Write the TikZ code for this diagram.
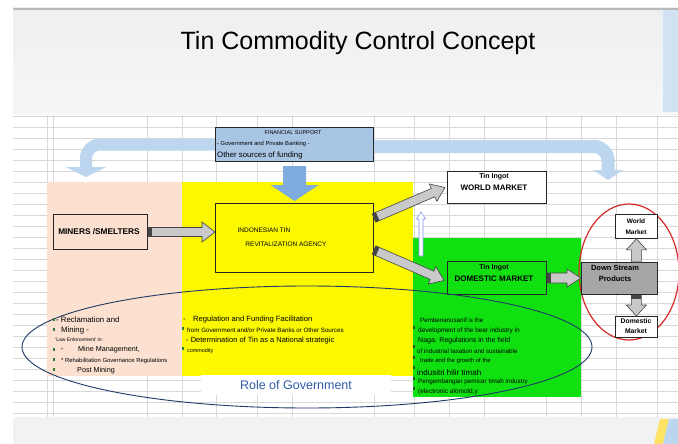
\documentclass[tikz,border=0pt]{standalone}
\usepackage{fontspec}
\setmainfont{Liberation Sans}
\usetikzlibrary{calc,arrows.meta}
\definecolor{peach}{HTML}{FCE1D0}
\definecolor{yel}{HTML}{FBF800}
\definecolor{grn}{HTML}{10E010}
\definecolor{finbl}{HTML}{A9C5E4}
\definecolor{arbl}{HTML}{80ABDE}
\definecolor{lband}{HTML}{BDD6EF}
\definecolor{gridc}{HTML}{D9D9D9}
\definecolor{navy}{HTML}{1F3A66}
\definecolor{redc}{HTML}{D42A2A}
\definecolor{rolebl}{HTML}{2F5BAA}
\definecolor{arrgr}{HTML}{C9C9C9}
\definecolor{arrdk}{HTML}{454545}
\definecolor{dsgr}{HTML}{A6A6A6}
\definecolor{markc}{HTML}{2E7D32}
\definecolor{slidetop}{HTML}{EEEFF0}
\definecolor{slidebg}{HTML}{F6F6F7}
\definecolor{botbg}{HTML}{F1F2F4}
\newcommand{\myfs}[1]{\fontsize{#1}{#1}\selectfont}
\tikzset{
  fatarrow/.style n args={3}{to path={
    let \p1=(\tikztostart), \p2=(\tikztotarget),
        \n1={atan2(\y2-\y1,\x2-\x1)}, \n2={veclen(\x2-\x1,\y2-\y1)} in
    ([shift={(\p1)},rotate=\n1]0pt,#1pt)
    -- ([shift={(\p1)},rotate=\n1]{\n2-#3pt},#1pt)
    -- ([shift={(\p1)},rotate=\n1]{\n2-#3pt},#2pt)
    -- ([shift={(\p1)},rotate=\n1]{\n2+0pt},0pt)
    -- ([shift={(\p1)},rotate=\n1]{\n2-#3pt},-#2pt)
    -- ([shift={(\p1)},rotate=\n1]{\n2-#3pt},-#1pt)
    -- ([shift={(\p1)},rotate=\n1]0pt,-#1pt) -- cycle}},
  tailband/.style n args={2}{to path={
    let \p1=(\tikztostart), \p2=(\tikztotarget),
        \n1={atan2(\y2-\y1,\x2-\x1)} in
    ([shift={(\p1)},rotate=\n1]0pt,#1pt)
    -- ([shift={(\p1)},rotate=\n1]#2pt,#1pt)
    -- ([shift={(\p1)},rotate=\n1]#2pt,-#1pt)
    -- ([shift={(\p1)},rotate=\n1]0pt,-#1pt) -- cycle}},
  region/.style={inner sep=0pt, anchor=north west},
  box/.style={draw=black!85, line width=1pt, inner sep=0pt, anchor=north west},
  txt/.style={anchor=west, inner sep=0pt, text=black},
  ctxt/.style={inner sep=0pt, text=black},
  greyarrow/.style={fill=arrgr, draw=arrdk, line width=0.6pt},
  band/.style={fill=arrdk},
}
\begin{document}
\begin{tikzpicture}[x=1pt,y=-1pt]
\useasboundingbox (0,0) rectangle (678,444);
% backgrounds
\fill[white] (0,0) rectangle (678,444);
\shade[top color=slidetop, bottom color=slidebg] (13,8) rectangle (678,115);
\fill[gray!55] (13,8) rectangle (678,10);
\fill[lband!70] (663,10) rectangle (678,112);
\fill[white] (13,115) rectangle (678,417);
\foreach \yy in {116,127,...,413} \draw[gridc, line width=0.6pt] (13,\yy) -- (678,\yy);
\foreach \xx in {47,53,147,182,216,257,292,374,414,449,484,546,581,616,657}
  \draw[gridc, line width=0.6pt] (\xx,115) -- (\xx,417);
\fill[botbg] (13,417) rectangle (678,444);
\fill[yellow!70!orange!60] (654,444) -- (660,419) -- (669,419) -- (663,444) -- cycle;
\fill[lband] (669,419) -- (678,419) -- (678,444) -- (663,444) -- cycle;

% title
\node[ctxt] (title) at (358,43) {\myfs{25}Tin Commodity Control Concept};

% regions
\node[region, fill=peach, minimum width=135pt, minimum height=194pt] (peach) at (47,182) {};
\node[region, fill=yel, minimum width=231pt, minimum height=194pt] (yellow) at (182,182) {};
\node[region, fill=grn, minimum width=168pt, minimum height=159pt] (green) at (413,238) {};

% financial support box and bands
\coordinate (lbend) at (86,177);
\coordinate (rbend) at (608,180);
\node[box, fill=finbl, minimum width=158pt, minimum height=34pt] (fin) at (215,127) {};
\draw[lband, line width=12pt, rounded corners=14pt, -{Triangle[width=40pt,length=10pt,line width=0pt]}]
  (fin.west) -| (lbend);
\draw[lband, line width=13pt, rounded corners=14pt, -{Triangle[width=30pt,length=10pt,line width=0pt]}]
  ([yshift=-2pt]fin.east) -| (rbend);
\node[box, fill=finbl, minimum width=158pt, minimum height=34pt] (fin2) at (215,127) {};
\node[ctxt] (ft1) at (293,133) {\myfs{5.5}FINANCIAL SUPPORT};
\node[txt] (ft2) at (217,144) {\myfs{5.8}- Government and Private Banking -};
\node[txt] (ft3) at (217,155) {\myfs{7.8}Other sources of funding};

% main boxes
\node[box, fill=peach, minimum width=94pt, minimum height=35pt] (miners) at (53,214) {};
\node[ctxt] (minerst) at (99,232) {\myfs{8.3}\bfseries MINERS /SMELTERS};
\node[box, fill=yel, minimum width=158pt, minimum height=69pt] (agency) at (215,203) {};
\node[ctxt] (ag1) at (264,230) {\myfs{6.5}INDONESIAN TIN};
\node[ctxt] (ag2) at (286,244) {\myfs{6.5}REVITALIZATION AGENCY};
\node[box, fill=white, minimum width=99pt, minimum height=32pt] (wm) at (447,171) {};
\node[ctxt] (wm1) at (494,177) {\myfs{7}\bfseries Tin Ingot};
\node[ctxt] (wm2) at (494,188) {\myfs{8}\bfseries WORLD MARKET};
\node[box, fill=grn, minimum width=99pt, minimum height=33pt] (dm) at (447,261) {};
\node[ctxt] (dm1) at (494,268) {\myfs{7}\bfseries Tin Ingot};
\node[ctxt] (dm2) at (494,279) {\myfs{8}\bfseries DOMESTIC MARKET};

% red ellipse and downstream
\draw[redc, line width=1.2pt] (629,272) ellipse [x radius=50pt, y radius=68pt];
\node[box, fill=dsgr, minimum width=76pt, minimum height=32pt] (ds) at (581,262) {};
\node[ctxt] (ds1) at (615,268) {\myfs{7.5}\bfseries Down Stream};
\node[ctxt] (ds2) at (615,279) {\myfs{7.5}\bfseries Products};
\node[box, fill=white, line width=0.8pt, minimum width=42pt, minimum height=24pt] (wms) at (615,214) {};
\node[ctxt] (wms1) at (636,221) {\myfs{6.5}\bfseries World};
\node[ctxt] (wms2) at (636,232) {\myfs{6.5}\bfseries Market};
\node[box, fill=white, line width=0.8pt, minimum width=42pt, minimum height=21pt] (dms) at (615,316) {};
\node[ctxt] (dms1) at (636,321) {\myfs{6.8}\bfseries Domestic};
\node[ctxt] (dms2) at (636,331) {\myfs{6.8}\bfseries Market};

% arrows
\path[fill=arbl] ([yshift=-4pt]fin2.south) to[fatarrow={11.5}{24}{16}] ([yshift=2pt]agency.north);
\path[greyarrow] (miners.east) to[fatarrow={4.5}{10}{13}] (agency.west |- miners.east);
\path[band] (miners.east) to[tailband={4.5}{4}] (agency.west |- miners.east);
\path[greyarrow] ([yshift=20pt]agency.east) to[fatarrow={4.5}{9.5}{13}] ([xshift=-2pt]wm.west);
\path[band] ([yshift=20pt]agency.east) to[tailband={4.5}{4}] ([xshift=-2pt]wm.west);
\path[greyarrow] ([yshift=-12pt]agency.east) to[fatarrow={4.5}{9.5}{13}] ([xshift=-3pt,yshift=-2.5pt]dm.west);
\path[band] ([yshift=-12pt]agency.east) to[tailband={4.5}{4}] ([xshift=-3pt,yshift=-2.5pt]dm.west);
\path[greyarrow] (dm.east) to[fatarrow={5}{9}{14}] (ds.west |- dm.east);
\path[band] (dm.east) to[tailband={5}{4}] (ds.west |- dm.east);
\path[greyarrow] (wms.south |- ds.north) to[fatarrow={5}{10}{11}] (wms.south);
\path[greyarrow] (dms.north |- ds.south) to[fatarrow={5}{10}{11}] (dms.north);
\path[band] (dms.north |- ds.south) to[tailband={5}{4}] (dms.north);
\coordinate (wa1) at (421,256);
\coordinate (wa2) at (421,212);
\path[fill=white, draw=lband!70!blue, line width=0.6pt] (wa1) to[fatarrow={2}{4.5}{7}] (wa2);

% role of government ellipse
\draw[navy, line width=0.9pt] (307,347) ellipse [x radius=285pt, y radius=61pt];
\node[fill=white, inner sep=0pt, minimum width=190pt, minimum height=20pt, text=rolebl] (role) at (296,385) {\myfs{12.5}Role of Government};

% peach text
\node[txt] (p1) at (56,320) {\myfs{7.8}- Reclamation and};
\node[txt] (p2) at (61,330) {\myfs{7.8}Mining -};
\node[txt] (p3) at (55,340) {\myfs{5}`Law Enforcement' in:};
\node[txt] (p4) at (61,350) {\myfs{5}*};
\node[txt] (p5) at (78,350) {\myfs{7.2}Mine Management,};
\node[txt] (p6) at (61,361) {\myfs{5.9}* Rehabilitation Governance Regulations};
\node[txt] (p7) at (77,371) {\myfs{7.2}Post Mining};
\foreach \yy in {318,328,348,358,368} \fill[markc] (53,\yy) rectangle ++(1.5,2.5);

% yellow text
\node[txt] (y0) at (183,320) {\myfs{7.6}-};
\node[txt] (y1) at (193,320) {\myfs{7.6}Regulation and Funding Facilitation};
\node[txt] (y2) at (187,330) {\myfs{6.2}from Government and/or Private Banks or Other Sources};
\node[txt] (y3) at (186,341) {\myfs{7.5}- Determination of Tin as a National strategic};
\node[txt] (y4) at (187,351) {\myfs{5.4}commodity};
\foreach \yy in {327,347} \fill[markc] (182,\yy) rectangle ++(1.5,2.5);

% green text
\node[txt] (g1) at (420,320) {\myfs{6.2}Pembenanusanif is the};
\node[txt] (g2) at (418,331) {\myfs{6.5}development of the beer industry in};
\node[txt] (g3) at (418,341) {\myfs{7}Naga. Regulations in the field};
\node[txt] (g4) at (417,351) {\myfs{6.2}of industrial taxation and sustainable};
\node[txt] (g5) at (420,361) {\myfs{5.9}trade and the growth of the};
\node[txt] (g6) at (417,373) {\myfs{8}indusitri hilir timah};
\node[txt] (g7) at (418,382) {\myfs{6.3}Pengembangan pemicar timah industry};
\node[txt] (g8) at (418,392) {\myfs{6.5}(electronic alomold,y};
\foreach \yy in {326,345,356,366,377,387} \fill[markc!70!black] (413,\yy) rectangle ++(1.5,2.5);
\end{tikzpicture}
\end{document}
